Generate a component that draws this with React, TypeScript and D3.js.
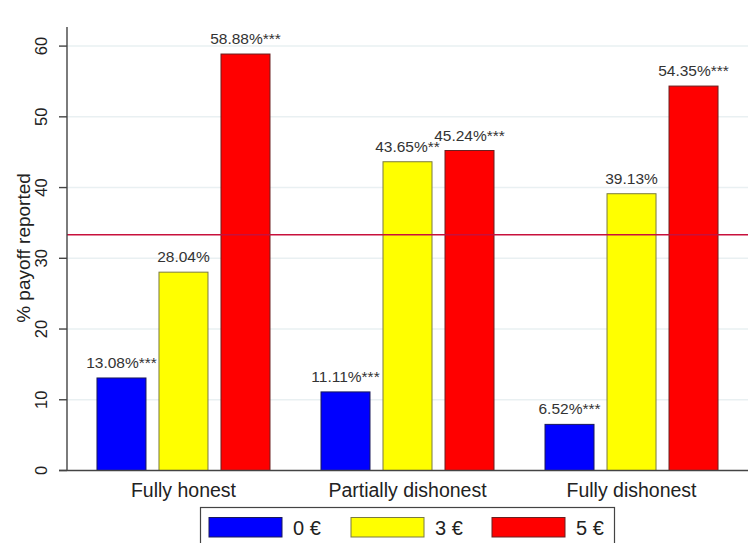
import React from "react";
import * as d3 from "d3";

const categories = ["Fully honest", "Partially dishonest", "Fully dishonest"];
const seriesNames = ["0 €", "3 €", "5 €"];
const values0 = [13.08, 11.11, 6.52];
const values3 = [28.04, 43.65, 39.13];
const values5 = [58.88, 45.24, 54.35];
const stars0 = ["***", "***", "***"];
const stars3 = ["", "**", ""];
const stars5 = ["***", "***", "***"];
const yTicks = [0, 10, 20, 30, 40, 50, 60];
const refValue = 33.33;

const fills = ["#0000ff", "#ffff00", "#ff0000"];
const strokes = ["#1a1a5a", "#7a7a40", "#6a2020"];

const W = 756;
const H = 543;
const FONT = "'Liberation Sans', Arial, sans-serif";

export default function App() {
  const left = 67;
  const right = 748;
  const y = d3.scaleLinear().domain([0, 62.7]).range([470.5, 27]);
  const x0 = d3.scaleBand<string>().domain(categories).range([left, right]).paddingInner(0).paddingOuter(0.02);
  const x1 = d3
    .scaleBand<string>()
    .domain(seriesNames)
    .range([0, x0.bandwidth()])
    .paddingInner(0.2097)
    .paddingOuter(0.4113);

  const series = [
    { name: seriesNames[0], values: values0, stars: stars0 },
    { name: seriesNames[1], values: values3, stars: stars3 },
    { name: seriesNames[2], values: values5, stars: stars5 },
  ];

  const labelSize = 15.5;

  return (
    <svg width={W} height={H} style={{ position: "absolute", left: 0, top: 0, background: "#fff" }} fontFamily={FONT}>
      <rect x={0} y={0} width={W} height={H} fill="#fff" />
      {/* gridlines */}
      {yTicks.filter((t) => t > 0).map((t) => (
        <line key={"g" + t} x1={left} x2={right} y1={y(t)} y2={y(t)} stroke="#e9f0f2" strokeWidth={1.5} />
      ))}
      {/* bars */}
      {series.map((s, si) =>
        categories.map((c, ci) => {
          const bx = (x0(c) as number) + (x1(s.name) as number);
          const by = y(s.values[ci]);
          return (
            <rect
              key={"b" + si + ci}
              x={bx}
              y={by}
              width={x1.bandwidth()}
              height={y(0) - by}
              fill={fills[si]}
              stroke={strokes[si]}
              strokeWidth={1}
            />
          );
        })
      )}
      {/* reference line */}
      <line x1={left} x2={right} y1={y(refValue)} y2={y(refValue)} stroke="#c8103c" strokeWidth={1.5} />
      {/* value labels */}
      {series.map((s, si) =>
        categories.map((c, ci) => {
          const cx = (x0(c) as number) + (x1(s.name) as number) + x1.bandwidth() / 2;
          return (
            <text
              key={"l" + si + ci}
              x={cx}
              y={y(s.values[ci]) - 10}
              textAnchor="middle"
              fontSize={labelSize}
              fill="#333"
            >
              {s.values[ci].toFixed(2) + "%" + s.stars[ci]}
            </text>
          );
        })
      )}
      {/* axes */}
      <line x1={left} x2={left} y1={y.range()[1]} y2={y(0)} stroke="#444" strokeWidth={1.4} />
      <line x1={left - 8} x2={right} y1={y(0)} y2={y(0)} stroke="#444" strokeWidth={1.4} />
      {yTicks.map((t) => (
        <g key={"t" + t}>
          <line x1={left - 8} x2={left} y1={y(t)} y2={y(t)} stroke="#444" strokeWidth={1.4} />
          <text
            transform={`translate(47,${y(t)}) rotate(-90)`}
            textAnchor="middle"
            fontSize={16.5}
            fill="#222"
          >
            {t}
          </text>
        </g>
      ))}
      <text transform={`translate(30,248) rotate(-90)`} textAnchor="middle" fontSize={19} fill="#222">
        % payoff reported
      </text>
      {categories.map((c) => (
        <text key={"c" + c} x={(x0(c) as number) + x0.bandwidth() / 2} y={497} textAnchor="middle" fontSize={19.5} fill="#222">
          {c}
        </text>
      ))}
      {/* legend */}
      <rect x={200.5} y={507.5} width={414} height={50} fill="#fff" stroke="#444" strokeWidth={1.2} />
      {seriesNames.map((n, i) => {
        const sx = [209, 351, 492][i];
        return (
          <g key={"lg" + n}>
            <rect x={sx} y={517.5} width={73} height={19.5} fill={fills[i]} stroke={strokes[i]} strokeWidth={1} />
            <text x={sx + 84} y={535} fontSize={20} fill="#222">
              {n}
            </text>
          </g>
        );
      })}
    </svg>
  );
}
